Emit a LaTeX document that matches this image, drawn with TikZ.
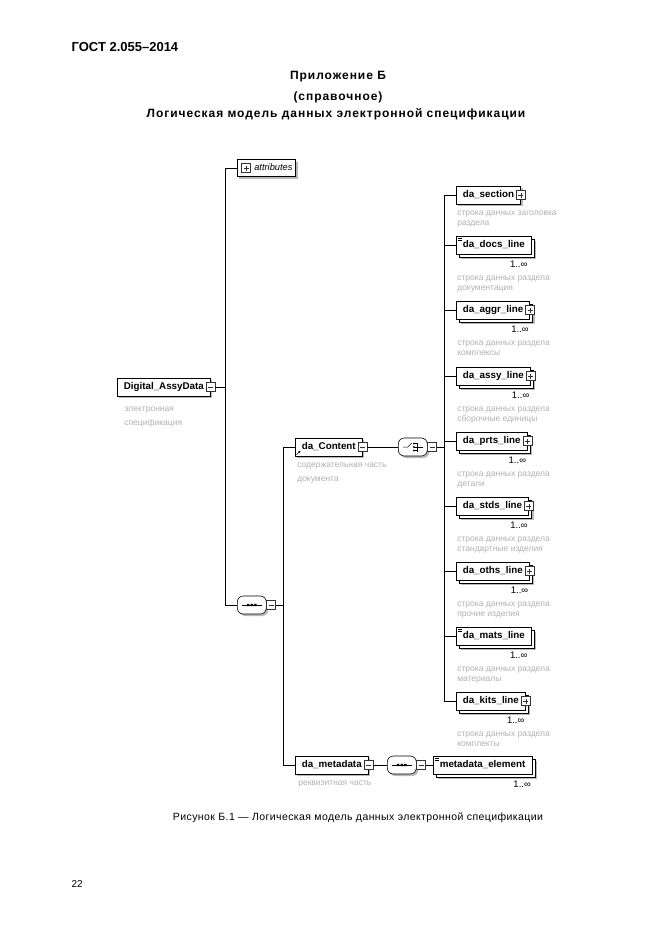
\documentclass[tikz,border=0pt]{standalone}
\usepackage{fontspec}
\setmainfont{Liberation Sans}
\newfontfamily\widefont[LetterSpace=8]{Liberation Sans}
\newfontfamily\capfont[LetterSpace=4]{Liberation Sans}
\usetikzlibrary{shadows,arrows.meta}

\tikzset{
  boxshadow/.style={general shadow={shadow xshift=2pt,shadow yshift=-2pt,fill=gray!55}},
  elembox/.style={draw, fill=white, anchor=west, font=\bfseries\fontsize{9.8}{11}\selectfont,
    text height=7pt, text depth=2pt, minimum height=18pt, inner xsep=6.5pt, inner ysep=2pt},
  elem/.style={elembox, boxshadow},
  multi/.style={elembox,
    general shadow={shadow xshift=5pt,shadow yshift=-5pt,fill=gray!55},
    general shadow={shadow xshift=3pt,shadow yshift=-3pt,fill=white,draw=black}},
  simpletype/.style={path picture={
    \draw[line width=0.5pt] ([shift={(2pt,-2pt)}]path picture bounding box.north west) -- +(4pt,0pt)
      ([shift={(2pt,-4pt)}]path picture bounding box.north west) -- +(4pt,0pt);}},
  attrbox/.style={draw, fill=white, anchor=west, boxshadow, font=\itshape\fontsize{9.3}{10}\selectfont,
    text height=6.5pt, text depth=2pt, minimum height=17pt, inner xsep=3pt},
  btn/.style={draw=black!80, fill=white, minimum size=9pt, inner sep=0pt, outer sep=0pt, line width=0.4pt},
  minusbtn/.style={btn, path picture={
    \draw ([xshift=2pt]path picture bounding box.west) -- ([xshift=-2pt]path picture bounding box.east);}},
  plusbtn/.style={btn, path picture={
    \draw ([xshift=2pt]path picture bounding box.west) -- ([xshift=-2pt]path picture bounding box.east)
      ([yshift=2pt]path picture bounding box.south) -- ([yshift=-2pt]path picture bounding box.north);}},
  comp/.style={draw, fill=white, anchor=west, rounded corners=6pt, minimum width=29pt,
    minimum height=18pt, inner sep=0pt, boxshadow},
  seqcomp/.style={comp, path picture={
    \coordinate (pc) at (path picture bounding box.center);
    \draw[sharp corners, line width=0.6pt] ([xshift=-10pt]pc) -- ([xshift=10pt]pc);
    \fill[black, sharp corners] ([shift={(-4.8pt,-1.2pt)}]pc) rectangle +(2.4pt,2.4pt)
      ([shift={(-1.2pt,-1.2pt)}]pc) rectangle +(2.4pt,2.4pt)
      ([shift={(2.4pt,-1.2pt)}]pc) rectangle +(2.4pt,2.4pt);}},
  choicecomp/.style={comp, path picture={
    \coordinate (pc) at (path picture bounding box.center);
    \draw[sharp corners, line width=0.5pt] ([xshift=-10pt]pc) -- ([xshift=-5pt]pc) -- ([shift={(-1pt,4pt)}]pc);
    \draw[sharp corners, line width=0.6pt] ([shift={(4pt,-4.5pt)}]pc) -- ([shift={(4pt,4.5pt)}]pc);
    \draw[sharp corners, line width=0.5pt] ([shift={(1pt,-3.5pt)}]pc) -- ([shift={(4pt,-3.5pt)}]pc)
      ([xshift=1pt]pc) -- ([xshift=10pt]pc) ([shift={(1pt,3.5pt)}]pc) -- ([shift={(4pt,3.5pt)}]pc);
    \fill[black] ([shift={(1pt,-3.5pt)}]pc) circle (1pt) ([xshift=1pt]pc) circle (1pt)
      ([shift={(1pt,3.5pt)}]pc) circle (1pt);}},
  occ/.style={font=\fontsize{9.5}{11}\selectfont, inner sep=0pt, anchor=north east},
  rnote/.style={font=\fontsize{8.5}{10.5}\selectfont, text=gray!60, align=left, inner sep=0pt, anchor=north west},
  lnote/.style={rnote, font=\fontsize{8.5}{14}\selectfont},
  headtext/.style={font=\widefont\bfseries\fontsize{12}{14}\selectfont},
}

\begin{document}
\begin{tikzpicture}[x=1pt,y=-1pt,line width=0.6pt]
	\useasboundingbox (0,0) rectangle (661,935);
	\fill[white] (0,0) rectangle (661,935);

	% header
	\node[anchor=west, font=\bfseries\fontsize{13}{15}\selectfont] (gost) at (68,47) {ГОСТ 2.055–2014};
	\node[headtext] (app) at (338,77) {Приложение Б};
	\node[headtext] (appkind) at (338,97) {(справочное)};
	\node[headtext] (apptitle) at (336,114) {Логическая модель данных электронной спецификации};

	% root element
	\node[elem] (root) at (117,387) {Digital\_AssyData};
	\node[minusbtn] (rootb) at (root.east) {};
	\node[lnote] (rootnote) at ([shift={(7pt,-10pt)}]root.south west) {электронная\\спецификация};
	\coordinate (t1) at (225,387);
	\draw (rootb.east) -- (t1);

	\node[attrbox] (attr) at (237,168) {\hspace*{14pt}attributes};
	\node[plusbtn] (attrb) at ([xshift=9pt]attr.west) {};
	\draw (t1) |- (attr.west);

	\node[seqcomp] (seq1) at (237,605) {};
	\node[minusbtn] (seq1b) at ([xshift=4.5pt]seq1.east) {};
	\coordinate (t2) at (283,605);
	\draw (t1) |- (seq1.west);
	\draw (seq1b.east) -- (t2);

	% content part
	\node[elem] (cont) at (295,447) {da\_Content};
	\node[minusbtn] (contb) at (cont.east) {};
	\draw[-{Stealth[length=2.5pt,width=2.5pt]}, line width=0.5pt] ([shift={(1.5pt,1.5pt)}]cont.south west) -- ++(4,-4);
	\node[lnote] (contnote) at ([shift={(2pt,-6pt)}]cont.south west) {содержательная часть\\документа};
	\draw (t2) |- (cont.west);

	\node[choicecomp] (choice) at (398,447) {};
	\node[minusbtn] (choiceb) at ([xshift=4.5pt]choice.east) {};
	\coordinate (t3) at (444,447);
	\draw (contb.east) -- (choice.west);
	\draw (choiceb.east) -- (t3);

	% section lines
	\node[elem] (sec) at (456,195) {da\_section};
	\node[plusbtn] (secb) at (sec.east) {};
	\node[rnote] (secnote) at ([shift={(1pt,-6pt)}]sec.south west) {строка данных заголовка\\раздела};

	\node[multi, simpletype] (docs) at (456,245) {da\_docs\_line};
	\node[occ] (docsocc) at ([shift={(-4pt,-6pt)}]docs.south east) {1..∞};
	\node[rnote] (docsnote) at ([shift={(1pt,-21pt)}]docs.south west) {строка данных раздела\\документация};

	\node[multi] (aggr) at (456,310) {da\_aggr\_line};
	\node[plusbtn] (aggrb) at (aggr.east) {};
	\node[occ] (aggrocc) at ([shift={(-1pt,-6pt)}]aggr.south east) {1..∞};
	\node[rnote] (aggrnote) at ([shift={(1pt,-21pt)}]aggr.south west) {строка данных раздела\\комплексы};

	\node[multi] (assy) at (456,376) {da\_assy\_line};
	\node[plusbtn] (assyb) at (assy.east) {};
	\node[occ] (assyocc) at ([shift={(-1pt,-6pt)}]assy.south east) {1..∞};
	\node[rnote] (assynote) at ([shift={(1pt,-21pt)}]assy.south west) {строка данных раздела\\сборочные единицы};

	\node[multi] (prts) at (456,441) {da\_prts\_line};
	\node[plusbtn] (prtsb) at (prts.east) {};
	\node[occ] (prtsocc) at ([shift={(-1pt,-6pt)}]prts.south east) {1..∞};
	\node[rnote] (prtsnote) at ([shift={(1pt,-21pt)}]prts.south west) {строка данных раздела\\детали};

	\node[multi] (stds) at (456,506) {da\_stds\_line};
	\node[plusbtn] (stdsb) at (stds.east) {};
	\node[occ] (stdsocc) at ([shift={(-1pt,-6pt)}]stds.south east) {1..∞};
	\node[rnote] (stdsnote) at ([shift={(1pt,-21pt)}]stds.south west) {строка данных раздела\\стандартные изделия};

	\node[multi] (oths) at (456,571) {da\_oths\_line};
	\node[plusbtn] (othsb) at (oths.east) {};
	\node[occ] (othsocc) at ([shift={(-1pt,-6pt)}]oths.south east) {1..∞};
	\node[rnote] (othsnote) at ([shift={(1pt,-21pt)}]oths.south west) {строка данных раздела\\прочие изделия};

	\node[multi, simpletype] (mats) at (456,636) {da\_mats\_line};
	\node[occ] (matsocc) at ([shift={(-4pt,-6pt)}]mats.south east) {1..∞};
	\node[rnote] (matsnote) at ([shift={(1pt,-21pt)}]mats.south west) {строка данных раздела\\материалы};

	\node[multi] (kits) at (456,701) {da\_kits\_line};
	\node[plusbtn] (kitsb) at (kits.east) {};
	\node[occ] (kitsocc) at ([shift={(-1pt,-6pt)}]kits.south east) {1..∞};
	\node[rnote] (kitsnote) at ([shift={(1pt,-21pt)}]kits.south west) {строка данных раздела\\комплекты};

	\draw (t3) |- (sec.west);
	\draw (t3) |- (docs.west);
	\draw (t3) |- (aggr.west);
	\draw (t3) |- (assy.west);
	\draw (t3) |- (prts.west);
	\draw (t3) |- (stds.west);
	\draw (t3) |- (oths.west);
	\draw (t3) |- (mats.west);
	\draw (t3) |- (kits.west);

	% metadata part
	\node[elem] (meta) at (295,765) {da\_metadata};
	\node[minusbtn] (metab) at (meta.east) {};
	\node[lnote] (metanote) at ([shift={(3pt,-6pt)}]meta.south west) {реквизитная часть};
	\draw (t2) |- (meta.west);

	\node[seqcomp] (seq2) at (387,765) {};
	\node[minusbtn] (seq2b) at ([xshift=4.5pt]seq2.east) {};
	\node[multi, simpletype] (metael) at (433,765) {metadata\_element};
	\node[occ] (metaelocc) at ([shift={(-1pt,-6pt)}]metael.south east) {1..∞};
	\draw (metab.east) -- (seq2.west);
	\draw (seq2b.east) -- (metael.west);

	% caption
	\node[font=\capfont\fontsize{10.5}{13}\selectfont] (cap) at (358,818) {Рисунок Б.1 — Логическая модель данных электронной спецификации};
	\node[anchor=west, font=\fontsize{10}{12}\selectfont] (pagenum) at (68,884) {22};
\end{tikzpicture}
\end{document}
